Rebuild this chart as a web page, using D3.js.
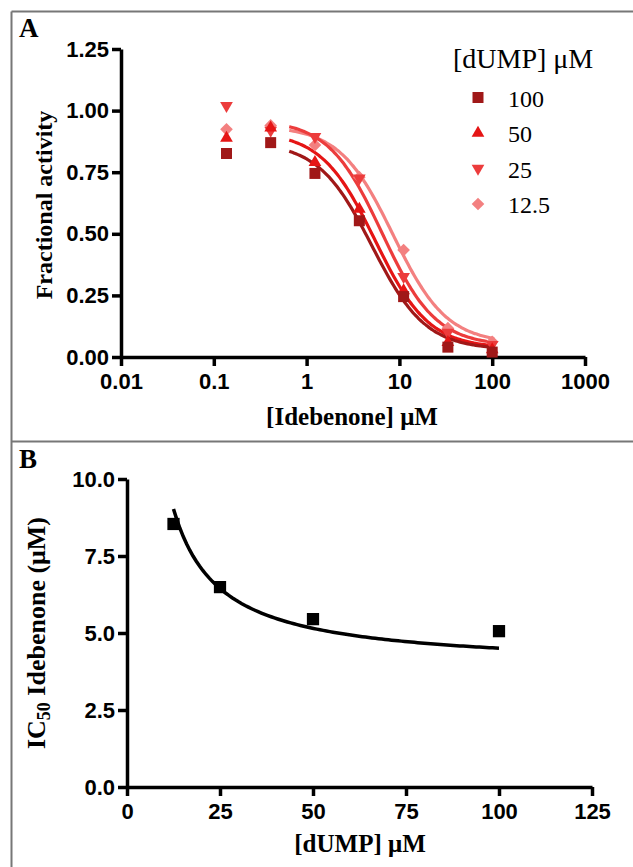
<!DOCTYPE html>
<html lang="en">
<head>
<meta charset="UTF-8">
<script src="https://d3js.org/d3.v7.min.js"></script>
<style>
    body { margin: 0; background: #fff; }
    svg { display: block; font-family: "Liberation Serif", "Times New Roman", serif; }
    .axis path, .axis line { stroke: #000; stroke-width: 3.5; }
    .axis text { font-size: 22px; font-weight: bold; fill: #000; }
    .title { font-weight: bold; fill: #000; }
    .frame { stroke: #777; stroke-width: 2; }
</style>
</head>
<body>
<svg id="chart" width="633" height="867"></svg>
<script>
// ---- panel A data ----
const ideConc = [0.137, 0.41, 1.23, 3.7, 11.1, 33.3, 100];
const dumpLevels = ["100", "50", "25", "12.5"];
const act100 = [0.826, 0.87, 0.745, 0.553, 0.245, 0.04, 0.02];
const act50 = [0.888, 0.93, 0.79, 0.60, 0.27, 0.06, 0.03];
const act25 = [1.02, 0.92, 0.894, 0.726, 0.326, 0.10, 0.05];
const act12 = [0.924, 0.94, 0.86, 0.73, 0.434, 0.117, 0.062];
// fitted dose-response parameters (one per dUMP level)
const fitTop = [0.872, 0.915, 0.963, 0.938];
const fitBottom = [0.03, 0.035, 0.045, 0.055];
const fitHill = [1.5, 1.5, 1.5, 1.5];
const fitIC50 = [5.06, 5.45, 6.49, 8.54];
const seriesColors = ["#a01818", "#e51515", "#ec3c3c", "#f38080"];
const xTicksA = [0.01, 0.1, 1, 10, 100, 1000];
const yTicksA = [0, 0.25, 0.5, 0.75, 1.0, 1.25];

// ---- panel B data ----
const dumpConc = [12.5, 25, 50, 100];
const ic50 = [8.54, 6.49, 5.45, 5.06];
const hypA = 3.86, hypB = 64.6;   // fit: IC50 = a + b / [dUMP]
const xTicksB = [0, 25, 50, 75, 100, 125];
const yTicksB = [0, 2.5, 5.0, 7.5, 10.0];

const svg = d3.select("#chart");
const W = +svg.attr("width"), H = +svg.attr("height");

// frame lines
svg.append("line").attr("class", "frame").attr("x1", 11.5).attr("y1", 11.5).attr("x2", 11.5).attr("y2", H);
svg.append("line").attr("class", "frame").attr("x1", 11.5).attr("y1", 11.5).attr("x2", W).attr("y2", 11.5);
svg.append("line").attr("class", "frame").attr("x1", 11.5).attr("y1", 441.5).attr("x2", W).attr("y2", 441.5);

svg.append("text").attr("class", "title").attr("x", 19).attr("y", 37).style("font-size", "27px").text("A");
svg.append("text").attr("class", "title").attr("x", 19).attr("y", 468).style("font-size", "27px").text("B");

// symbols
const symSquare = d3.symbol().type(d3.symbolSquare).size(121);
const symTri = d3.symbol().type(d3.symbolTriangle).size(70);
const symDiamond = d3.symbol().type(d3.symbolSquare).size(80);
const shapes = [
    {path: symSquare(), rot: 0},
    {path: symTri(), rot: 0},
    {path: symTri(), rot: 180},
    {path: symDiamond(), rot: 45}
];

// ================= PANEL A =================
const xA = d3.scaleLog().domain([0.01, 1000]).range([121, 585]);
const yA = d3.scaleLinear().domain([0, 1.25]).range([357, 49]);
const gA = svg.append("g");

gA.append("g").attr("class", "axis").attr("transform", "translate(0,357)")
    .call(d3.axisBottom(xA).tickValues(xTicksA).tickFormat(d => String(d)).tickSize(9).tickSizeOuter(0).tickPadding(7));
gA.append("g").attr("class", "axis").attr("transform", "translate(121,0)")
    .call(d3.axisLeft(yA).tickValues(yTicksA).tickFormat(d3.format(".2f")).tickSize(9).tickSizeOuter(0).tickPadding(3));

const actSeries = [act100, act50, act25, act12];
const logistic = i => x => fitBottom[i] + (fitTop[i] - fitBottom[i]) / (1 + Math.pow(x / fitIC50[i], fitHill[i]));
const curveX = d3.range(0, 101).map(k => Math.pow(10, Math.log10(0.65) + k / 100 * (Math.log10(105) - Math.log10(0.65))));
const lineA = d3.line().x(d => xA(d[0])).y(d => yA(d[1])).curve(d3.curveBasis);

// draw lightest first so darker series sit on top
[3, 2, 1, 0].forEach(i => {
    const f = logistic(i);
    gA.append("path")
        .datum(curveX.map(x => [x, f(x)]))
        .attr("d", lineA)
        .attr("fill", "none")
        .attr("stroke", seriesColors[i])
        .attr("stroke-width", 3.2);
});
[3, 2, 1, 0].forEach(i => {
    gA.selectAll(null).data(actSeries[i].map((v, j) => [ideConc[j], v]))
        .join("path")
        .attr("d", shapes[i].path)
        .attr("transform", d => `translate(${xA(d[0])},${yA(d[1])}) rotate(${shapes[i].rot})`)
        .attr("fill", seriesColors[i]);
});

// legend
const legend = gA.append("g");
legend.append("text").attr("x", 453).attr("y", 68).style("font-size", "28px").text("[dUMP] \u03bcM");
const legendRowY = d3.scalePoint().domain(dumpLevels).range([97.5, 204]);
dumpLevels.forEach((lab, i) => {
    legend.append("path")
        .attr("d", shapes[i].path)
        .attr("transform", `translate(478,${legendRowY(lab)}) rotate(${shapes[i].rot})`)
        .attr("fill", seriesColors[i]);
    legend.append("text").attr("x", 508).attr("y", legendRowY(lab) + 9)
        .style("font-size", "24px").text(lab);
});

gA.append("text").attr("class", "title").attr("x", 352).attr("y", 425)
    .attr("text-anchor", "middle").style("font-size", "25px").text("[Idebenone] \u03bcM");
gA.append("text").attr("class", "title")
    .attr("transform", "translate(44,205) rotate(-90)").attr("dy", "0.35em")
    .attr("text-anchor", "middle").style("font-size", "24px").text("Fractional activity");

// ================= PANEL B =================
const xB = d3.scaleLinear().domain([0, 125]).range([127, 592]);
const yB = d3.scaleLinear().domain([0, 10]).range([787, 479]);
const gB = svg.append("g");

gB.append("g").attr("class", "axis").attr("transform", "translate(0,787)")
    .call(d3.axisBottom(xB).tickValues(xTicksB).tickFormat(d3.format("d")).tickSize(9).tickSizeOuter(0).tickPadding(7));
gB.append("g").attr("class", "axis").attr("transform", "translate(127,0)")
    .call(d3.axisLeft(yB).tickValues(yTicksB).tickFormat(d3.format(".1f")).tickSize(9).tickSizeOuter(0).tickPadding(3));

const hypX = d3.range(0, 101).map(k => 12.5 + k / 100 * (100 - 12.5));
gB.append("path")
    .datum(hypX.map(x => [x, hypA + hypB / x]))
    .attr("d", d3.line().x(d => xB(d[0])).y(d => yB(d[1])))
    .attr("fill", "none").attr("stroke", "#000").attr("stroke-width", 3.5);

gB.selectAll(null).data(dumpConc.map((c, j) => [c, ic50[j]]))
    .join("path")
    .attr("d", d3.symbol().type(d3.symbolSquare).size(150)())
    .attr("transform", d => `translate(${xB(d[0])},${yB(d[1])})`)
    .attr("fill", "#000");

gB.append("text").attr("class", "title").attr("x", 360).attr("y", 852)
    .attr("text-anchor", "middle").style("font-size", "25px").text("[dUMP] \u03bcM");
const yTitleB = gB.append("text").attr("class", "title")
    .attr("transform", "translate(36,633) rotate(-90)").attr("dy", "0.35em")
    .attr("text-anchor", "middle").style("font-size", "26px");
yTitleB.append("tspan").text("IC");
yTitleB.append("tspan").attr("dy", "0.25em").style("font-size", "18px").text("50");
yTitleB.append("tspan").attr("dy", "-0.18em").text(" Idebenone (\u03bcM)");
</script>
</body>
</html>
